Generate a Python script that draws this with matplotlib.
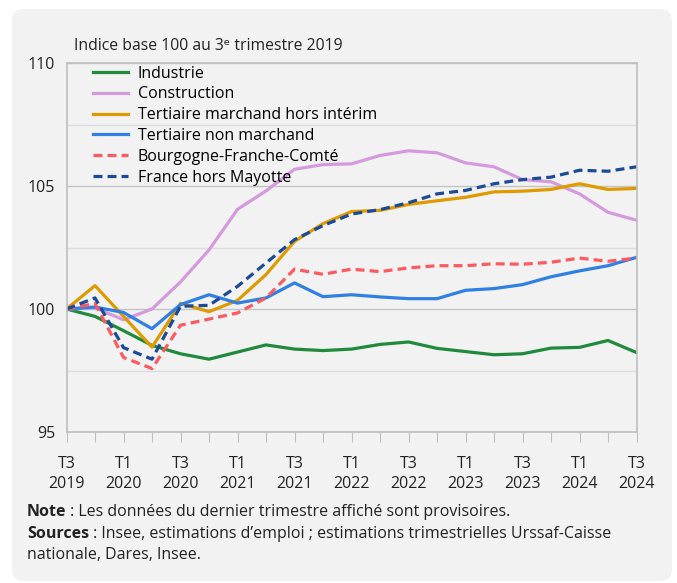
import numpy as np
import matplotlib
matplotlib.use("Agg")
import matplotlib.pyplot as plt
from matplotlib.patches import FancyBboxPatch
from matplotlib.transforms import IdentityTransform
from matplotlib.ticker import MultipleLocator

plt.rcParams['font.family'] = ['Open Sans', 'DejaVu Sans']

# trimestres T3 2019 -> T3 2024
quarters = ['T3\n2019', 'T4\n2019', 'T1\n2020', 'T2\n2020', 'T3\n2020', 'T4\n2020',
            'T1\n2021', 'T2\n2021', 'T3\n2021', 'T4\n2021', 'T1\n2022', 'T2\n2022',
            'T3\n2022', 'T4\n2022', 'T1\n2023', 'T2\n2023', 'T3\n2023', 'T4\n2023',
            'T1\n2024', 'T2\n2024', 'T3\n2024']

industrie = [100, 99.70, 99.12, 98.52, 98.18, 97.96, 98.25, 98.54, 98.37, 98.31, 98.37,
             98.56, 98.66, 98.40, 98.27, 98.14, 98.18, 98.41, 98.44, 98.72, 98.23]
construction = [100, 100.05, 99.56, 100.0, 101.1, 102.4, 104.05, 104.8, 105.68, 105.87, 105.9,
                106.24, 106.43, 106.35, 105.94, 105.78, 105.26, 105.17, 104.68, 103.93, 103.61]
tertiaire_march = [100, 100.95, 99.70, 98.45, 100.23, 99.89, 100.35, 101.40, 102.75, 103.47, 103.96,
                   104.01, 104.25, 104.40, 104.54, 104.76, 104.79, 104.86, 105.09, 104.86, 104.90]
tertiaire_non_march = [100, 100.08, 99.86, 99.20, 100.18, 100.58, 100.24, 100.45, 101.06, 100.50, 100.58,
                       100.49, 100.42, 100.42, 100.76, 100.83, 100.99, 101.31, 101.55, 101.76, 102.10]
bfc = [100, 100.22, 98.03, 97.58, 99.34, 99.59, 99.84, 100.45, 101.62, 101.41, 101.62,
       101.52, 101.67, 101.76, 101.76, 101.84, 101.82, 101.90, 102.07, 101.94, 102.07]
france = [100, 100.45, 98.43, 97.96, 100.11, 100.15, 100.92, 101.87, 102.82, 103.39, 103.86,
          104.04, 104.32, 104.68, 104.82, 105.09, 105.26, 105.36, 105.64, 105.60, 105.78]

series = [
    ('Industrie', industrie, '#1f8a3c', '-'),
    ('Construction', construction, '#d59ade', '-'),
    ('Tertiaire marchand hors intérim', tertiaire_march, '#de9a00', '-'),
    ('Tertiaire non marchand', tertiaire_non_march, '#2f80e2', '-'),
    ('Bourgogne-Franche-Comté', bfc, '#fc5a5f', '--'),
    ('France hors Mayotte', france, '#1b4a98', '--'),
]

W, H = 677, 583
fig = plt.figure(figsize=(W / 100, H / 100), dpi=100, facecolor='white')

# fond gris arrondi (derriere les axes)
panel = FancyBboxPatch((12, 2), 660, 572, boxstyle='round,pad=0,rounding_size=12',
                       transform=IdentityTransform(), facecolor='#f2f2f2', edgecolor='none',
                       zorder=-10)
fig.patches.append(panel)

ax = fig.add_axes([66.5 / W, 1 - 432 / H, 570 / W, 369 / H])
ax.set_facecolor('#f2f2f2')

x = np.arange(len(quarters))
for name, vals, col, ls in series:
    if ls == '--':
        ax.plot(x, vals, color=col, lw=2.3, ls=(0, (2.8, 1.6)), label=name)
    else:
        ax.plot(x, vals, color=col, lw=2.3, label=name)

ax.set_xlim(0, 20)
ax.set_ylim(95, 110)
ax.yaxis.set_major_locator(MultipleLocator(5))
ax.yaxis.set_minor_locator(MultipleLocator(2.5))
ax.grid(True, which='major', axis='y', color='#c4c4c4', lw=1)
ax.grid(True, which='minor', axis='y', color='#dddddd', lw=1)
ax.set_axisbelow(True)

ax.set_xticks(x)
ax.set_xticklabels([q if i % 2 == 0 else '' for i, q in enumerate(quarters)], linespacing=1.35)
ax.tick_params(axis='x', length=7, color='#bfbfbf', pad=10, labelsize=11.5, labelcolor='#222222')
ax.tick_params(axis='y', which='both', length=0, pad=8, labelsize=11.5, labelcolor='#222222')
for s in ax.spines.values():
    s.set_color('#bfbfbf')
    s.set_linewidth(1.2)

leg = ax.legend(loc='upper left', bbox_to_anchor=(0.035, 1.01), frameon=False, fontsize=11.5,
                handlelength=2.2, handletextpad=0.6, labelspacing=0.3, borderaxespad=0)

fig.text(74 / W, 1 - 50 / H, 'Indice base 100 au 3ᵉ trimestre 2019', fontsize=11.3,
         va='baseline', ha='left', color='#222222')

# notes avec debut en gras
renderer = fig.canvas.get_renderer()
for ypix, bold, rest in [(516, 'Note', ' : Les données du dernier trimestre affiché sont provisoires.'),
                         (538, 'Sources', ' : Insee, estimations d’emploi ; estimations trimestrielles Urssaf-Caisse'),
                         (559, '', 'nationale, Dares, Insee.')]:
    xpos = 27 / W
    if bold:
        t = fig.text(xpos, 1 - ypix / H, bold, fontsize=11.5, fontweight='bold', va='baseline', color='#222222')
        bb = t.get_window_extent(renderer)
        xpos = bb.x1 / W
    fig.text(xpos, 1 - ypix / H, rest, fontsize=11.5, va='baseline', color='#222222')

fig.savefig('out.png', dpi=100, facecolor='white')
